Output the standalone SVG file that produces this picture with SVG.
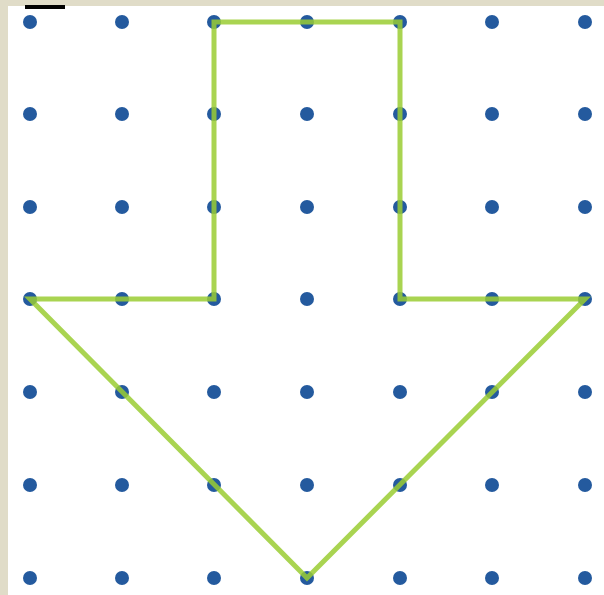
<svg xmlns="http://www.w3.org/2000/svg" width="604" height="595" viewBox="0 0 604 595">
<defs>
<style>
.dot{fill:#245a9e}
.arrow{fill:none;stroke:#9acd32;stroke-width:5;stroke-linejoin:miter;stroke-opacity:0.85}
</style>
</defs>
<rect x="0" y="0" width="604" height="595" fill="#e0dcc8"/>
<rect x="8" y="6" width="596" height="589" fill="#ffffff"/>
<rect x="25" y="5" width="40" height="4" fill="#000000"/>
<g id="dots">
<g id="row0"><circle class="dot" cx="30" cy="22" r="7"/><circle class="dot" cx="122" cy="22" r="7"/><circle class="dot" cx="214" cy="22" r="7"/><circle class="dot" cx="307" cy="22" r="7"/><circle class="dot" cx="400" cy="22" r="7"/><circle class="dot" cx="492" cy="22" r="7"/><circle class="dot" cx="585" cy="22" r="7"/></g>
<g id="row1"><circle class="dot" cx="30" cy="114" r="7"/><circle class="dot" cx="122" cy="114" r="7"/><circle class="dot" cx="214" cy="114" r="7"/><circle class="dot" cx="307" cy="114" r="7"/><circle class="dot" cx="400" cy="114" r="7"/><circle class="dot" cx="492" cy="114" r="7"/><circle class="dot" cx="585" cy="114" r="7"/></g>
<g id="row2"><circle class="dot" cx="30" cy="207" r="7"/><circle class="dot" cx="122" cy="207" r="7"/><circle class="dot" cx="214" cy="207" r="7"/><circle class="dot" cx="307" cy="207" r="7"/><circle class="dot" cx="400" cy="207" r="7"/><circle class="dot" cx="492" cy="207" r="7"/><circle class="dot" cx="585" cy="207" r="7"/></g>
<g id="row3"><circle class="dot" cx="30" cy="299" r="7"/><circle class="dot" cx="122" cy="299" r="7"/><circle class="dot" cx="214" cy="299" r="7"/><circle class="dot" cx="307" cy="299" r="7"/><circle class="dot" cx="400" cy="299" r="7"/><circle class="dot" cx="492" cy="299" r="7"/><circle class="dot" cx="585" cy="299" r="7"/></g>
<g id="row4"><circle class="dot" cx="30" cy="392" r="7"/><circle class="dot" cx="122" cy="392" r="7"/><circle class="dot" cx="214" cy="392" r="7"/><circle class="dot" cx="307" cy="392" r="7"/><circle class="dot" cx="400" cy="392" r="7"/><circle class="dot" cx="492" cy="392" r="7"/><circle class="dot" cx="585" cy="392" r="7"/></g>
<g id="row5"><circle class="dot" cx="30" cy="485" r="7"/><circle class="dot" cx="122" cy="485" r="7"/><circle class="dot" cx="214" cy="485" r="7"/><circle class="dot" cx="307" cy="485" r="7"/><circle class="dot" cx="400" cy="485" r="7"/><circle class="dot" cx="492" cy="485" r="7"/><circle class="dot" cx="585" cy="485" r="7"/></g>
<g id="row6"><circle class="dot" cx="30" cy="578" r="7"/><circle class="dot" cx="122" cy="578" r="7"/><circle class="dot" cx="214" cy="578" r="7"/><circle class="dot" cx="307" cy="578" r="7" fill="#2d6a3a"/><circle class="dot" cx="400" cy="578" r="7"/><circle class="dot" cx="492" cy="578" r="7"/><circle class="dot" cx="585" cy="578" r="7"/></g>
</g>
<g id="arrow">
<polygon class="arrow" points="214,22 400,22 400,299 585,299 307,578 30,299 214,299"/>
</g>
</svg>
